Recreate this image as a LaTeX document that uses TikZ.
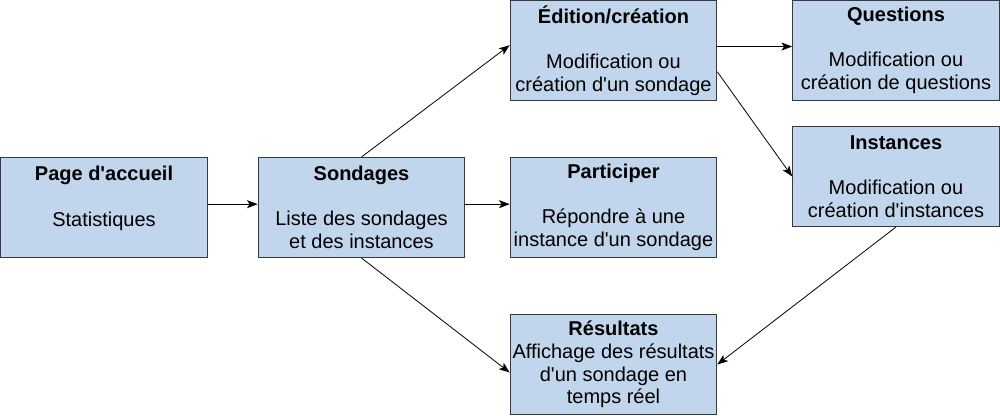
\documentclass[tikz,border=0pt]{standalone}
\usepackage{fontspec}
\setmainfont{Liberation Sans}
\definecolor{PageFill}{RGB}{193,214,236}
\definecolor{PageBorder}{RGB}{54,57,61}
\usetikzlibrary{arrows.meta}
\newcommand{\apos}{\textquotesingle}
\tikzset{
  page/.style={draw=PageBorder, fill=PageFill, line width=0.75pt,
    minimum width=155pt, minimum height=75pt, inner sep=0pt,
    align=center, font=\fontsize{15}{16.9}\selectfont},
  link/.style={-{Stealth[length=8pt,width=6pt,inset=2pt]}, line width=0.6pt}
}

\begin{document}
\begin{tikzpicture}[x=0.75pt,y=-0.75pt]

\useasboundingbox (0,0) rectangle (1000,415);

\node[page] (accueil)    at (104,207.5)   {\textbf{Page d\apos accueil}\\~\\Statistiques\\~};
\node[page] (sondages)   at (361.5,207.5) {\textbf{Sondages}\\~\\Liste des sondages\\et des instances};
\node[page] (edition)    at (613.5,50.5)  {\textbf{Édition/création}\\~\\Modification ou\\création d\apos un sondage};
\node[page] (participer) at (613.5,207.5) {\textbf{Participer}\\~\\Répondre à une\\instance d\apos un sondage};
\node[page] (resultats)  at (613.5,364.5) {\textbf{Résultats}\\Affichage des résultats\\d\apos un sondage en\\temps réel};
\node[page] (questions)  at (896,50.5)    {\textbf{Questions}\\~\\Modification ou\\création de questions};
\node[page] (instances)  at (896,176.5)   {\textbf{Instances}\\~\\Modification ou\\création d\apos instances};

\draw[link] ([yshift=2.5pt]accueil.east) -- ([yshift=2.5pt]sondages.west);
\draw[link] ([yshift=2.5pt]sondages.east) -- ([yshift=2.5pt]participer.west);
\draw[link] (sondages.north) -- ([yshift=4pt]edition.west);
\draw[link] (sondages.south) -- ([yshift=-6pt]resultats.west);
\draw[link] ([yshift=3pt]edition.east) -- ([yshift=3pt]questions.west);
\draw[link] ([yshift=-16pt]edition.east) -- (instances.west);
\draw[link] (instances.south) -- (resultats.east);

\end{tikzpicture}
\end{document}
